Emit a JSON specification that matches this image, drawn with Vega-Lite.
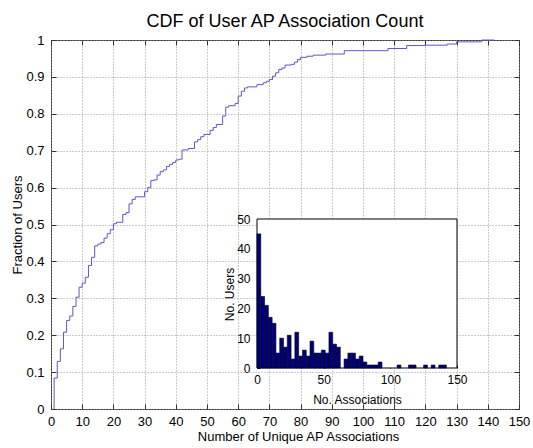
{
  "$schema": "https://vega.github.io/schema/vega-lite/v6.json",
  "width": 468,
  "height": 369,
  "autosize": {"type": "none"},
  "padding": {"left": 51, "top": 40, "right": 14, "bottom": 39},
  "background": "white",
  "config": {
    "font": "Liberation Sans",
    "view": {"stroke": "#333", "strokeWidth": 1}
  },
  "title": {
    "text": "CDF of User AP Association Count",
    "font": "Liberation Sans",
    "fontSize": 18,
    "fontWeight": "normal",
    "color": "#000",
    "baseline": "alphabetic",
    "offset": 13,
    "dy": 24
  },
  "datasets": {
    "cdf": [
      {"associations": 1, "fraction": 0},
      {"associations": 1, "fraction": 0.084},
      {"associations": 2, "fraction": 0.129},
      {"associations": 3, "fraction": 0.163},
      {"associations": 4, "fraction": 0.208},
      {"associations": 5, "fraction": 0.24},
      {"associations": 6, "fraction": 0.252},
      {"associations": 7, "fraction": 0.278},
      {"associations": 8, "fraction": 0.303},
      {"associations": 9, "fraction": 0.33},
      {"associations": 10, "fraction": 0.341},
      {"associations": 11, "fraction": 0.357},
      {"associations": 12, "fraction": 0.389},
      {"associations": 13, "fraction": 0.411},
      {"associations": 14, "fraction": 0.442},
      {"associations": 15, "fraction": 0.447},
      {"associations": 16, "fraction": 0.451},
      {"associations": 17, "fraction": 0.463},
      {"associations": 18, "fraction": 0.475},
      {"associations": 19, "fraction": 0.486},
      {"associations": 20, "fraction": 0.502},
      {"associations": 21, "fraction": 0.506},
      {"associations": 23, "fraction": 0.527},
      {"associations": 24, "fraction": 0.532},
      {"associations": 25, "fraction": 0.556},
      {"associations": 26, "fraction": 0.568},
      {"associations": 27, "fraction": 0.575},
      {"associations": 30, "fraction": 0.589},
      {"associations": 31, "fraction": 0.6},
      {"associations": 32, "fraction": 0.619},
      {"associations": 33, "fraction": 0.621},
      {"associations": 34, "fraction": 0.634},
      {"associations": 35, "fraction": 0.643},
      {"associations": 36, "fraction": 0.648},
      {"associations": 37, "fraction": 0.657},
      {"associations": 38, "fraction": 0.663},
      {"associations": 39, "fraction": 0.668},
      {"associations": 40, "fraction": 0.675},
      {"associations": 41, "fraction": 0.677},
      {"associations": 42, "fraction": 0.702},
      {"associations": 44, "fraction": 0.706},
      {"associations": 46, "fraction": 0.724},
      {"associations": 47, "fraction": 0.73},
      {"associations": 48, "fraction": 0.738},
      {"associations": 49, "fraction": 0.744},
      {"associations": 51, "fraction": 0.755},
      {"associations": 52, "fraction": 0.763},
      {"associations": 53, "fraction": 0.771},
      {"associations": 55, "fraction": 0.794},
      {"associations": 56, "fraction": 0.818},
      {"associations": 57, "fraction": 0.822},
      {"associations": 59, "fraction": 0.828},
      {"associations": 60, "fraction": 0.848},
      {"associations": 61, "fraction": 0.861},
      {"associations": 62, "fraction": 0.87},
      {"associations": 63, "fraction": 0.873},
      {"associations": 66, "fraction": 0.879},
      {"associations": 68, "fraction": 0.884},
      {"associations": 69, "fraction": 0.888},
      {"associations": 70, "fraction": 0.893},
      {"associations": 71, "fraction": 0.902},
      {"associations": 72, "fraction": 0.911},
      {"associations": 73, "fraction": 0.92},
      {"associations": 74, "fraction": 0.924},
      {"associations": 75, "fraction": 0.932},
      {"associations": 77, "fraction": 0.934},
      {"associations": 78, "fraction": 0.94},
      {"associations": 79, "fraction": 0.947},
      {"associations": 80, "fraction": 0.953},
      {"associations": 82, "fraction": 0.956},
      {"associations": 84, "fraction": 0.959},
      {"associations": 88, "fraction": 0.962},
      {"associations": 94, "fraction": 0.971},
      {"associations": 108, "fraction": 0.977},
      {"associations": 114, "fraction": 0.985},
      {"associations": 120, "fraction": 0.986},
      {"associations": 127, "fraction": 0.989},
      {"associations": 130, "fraction": 0.995},
      {"associations": 138, "fraction": 1.0},
      {"associations": 142, "fraction": 1.0}
    ],
    "hist": [
      {"bin_start": 0, "bin_end": 2.84, "users": 45},
      {"bin_start": 2.84, "bin_end": 5.68, "users": 24},
      {"bin_start": 5.68, "bin_end": 8.52, "users": 21},
      {"bin_start": 8.52, "bin_end": 11.36, "users": 17},
      {"bin_start": 11.36, "bin_end": 14.2, "users": 15},
      {"bin_start": 14.2, "bin_end": 17.04, "users": 5},
      {"bin_start": 17.04, "bin_end": 19.88, "users": 10},
      {"bin_start": 19.88, "bin_end": 22.72, "users": 7},
      {"bin_start": 22.72, "bin_end": 25.56, "users": 11},
      {"bin_start": 25.56, "bin_end": 28.4, "users": 3},
      {"bin_start": 28.4, "bin_end": 31.24, "users": 12},
      {"bin_start": 31.24, "bin_end": 34.08, "users": 4},
      {"bin_start": 34.08, "bin_end": 36.92, "users": 6},
      {"bin_start": 36.92, "bin_end": 39.76, "users": 4},
      {"bin_start": 39.76, "bin_end": 42.6, "users": 9},
      {"bin_start": 42.6, "bin_end": 45.44, "users": 5},
      {"bin_start": 45.44, "bin_end": 48.28, "users": 5},
      {"bin_start": 48.28, "bin_end": 51.12, "users": 6},
      {"bin_start": 51.12, "bin_end": 53.96, "users": 5},
      {"bin_start": 53.96, "bin_end": 56.8, "users": 12},
      {"bin_start": 56.8, "bin_end": 59.64, "users": 8},
      {"bin_start": 59.64, "bin_end": 62.48, "users": 7},
      {"bin_start": 65.32, "bin_end": 68.16, "users": 3},
      {"bin_start": 68.16, "bin_end": 71, "users": 5},
      {"bin_start": 71, "bin_end": 73.84, "users": 5},
      {"bin_start": 73.84, "bin_end": 76.68, "users": 3},
      {"bin_start": 76.68, "bin_end": 79.52, "users": 4},
      {"bin_start": 79.52, "bin_end": 82.36, "users": 2},
      {"bin_start": 82.36, "bin_end": 85.2, "users": 1},
      {"bin_start": 85.2, "bin_end": 88.04, "users": 1},
      {"bin_start": 88.04, "bin_end": 90.88, "users": 1},
      {"bin_start": 90.88, "bin_end": 93.72, "users": 2},
      {"bin_start": 105.08, "bin_end": 107.92, "users": 1},
      {"bin_start": 113.6, "bin_end": 116.44, "users": 1},
      {"bin_start": 116.44, "bin_end": 119.28, "users": 1},
      {"bin_start": 124.96, "bin_end": 127.8, "users": 1},
      {"bin_start": 130.64, "bin_end": 133.48, "users": 1},
      {"bin_start": 136.32, "bin_end": 139.16, "users": 1},
      {"bin_start": 139.16, "bin_end": 142, "users": 1}
    ]
  },
  "layer": [
    {
      "data": {"name": "cdf"},
      "mark": {"type": "line", "interpolate": "step-after", "color": "#5a5ac8", "strokeWidth": 1},
      "encoding": {
        "x": {
          "field": "associations",
          "type": "quantitative",
          "scale": {"domain": [0, 150], "nice": false, "zero": false},
          "axis": {
            "orient": "bottom",
            "values": [0, 10, 20, 30, 40, 50, 60, 70, 80, 90, 100, 110, 120, 130, 140, 150],
            "format": "d",
            "labelOverlap": false,
            "labelBound": false,
            "labelFlush": false,
            "domain": false,
            "grid": true,
            "gridColor": "#999",
            "gridDash": [1, 2],
            "gridWidth": 1,
            "ticks": true,
            "tickSize": -5,
            "tickColor": "#333",
            "labelFontSize": 13,
            "labelColor": "#000",
            "labelPadding": 11,
            "labelFont": "Liberation Sans",
            "title": "Number of Unique AP Associations",
            "titleFont": "Liberation Sans",
            "titleFontSize": 13,
            "titleFontWeight": "normal",
            "titleColor": "#000",
            "titleBaseline": "alphabetic",
            "titleX": 247,
            "titleY": 31.5
          }
        },
        "y": {
          "field": "fraction",
          "type": "quantitative",
          "scale": {"domain": [0, 1], "nice": false},
          "axis": {
            "orient": "left",
            "values": [0, 0.1, 0.2, 0.3, 0.4, 0.5, 0.6, 0.7, 0.8, 0.9, 1],
            "format": "~g",
            "labelOverlap": false,
            "labelFlush": false,
            "domain": false,
            "grid": true,
            "gridColor": "#999",
            "gridDash": [1, 2],
            "gridWidth": 1,
            "ticks": true,
            "tickSize": -5,
            "tickColor": "#333",
            "labelFontSize": 13,
            "labelColor": "#000",
            "labelPadding": 12,
            "labelFont": "Liberation Sans",
            "title": "Fraction of Users",
            "titleFont": "Liberation Sans",
            "titleFontSize": 13,
            "titleFontWeight": "normal",
            "titleColor": "#000",
            "titleBaseline": "alphabetic",
            "titleAngle": -90,
            "titleX": -30,
            "titleY": 184.5
          }
        }
      }
    },
    {
      "data": {"name": "cdf"},
      "mark": {"type": "line", "interpolate": "step-after", "strokeOpacity": 0},
      "encoding": {
        "x": {
          "field": "associations",
          "type": "quantitative",
          "scale": {"domain": [0, 150], "nice": false, "zero": false},
          "axis": {
            "orient": "top",
            "values": [0, 10, 20, 30, 40, 50, 60, 70, 80, 90, 100, 110, 120, 130, 140, 150],
            "labels": false,
            "domain": false,
            "grid": false,
            "ticks": true,
            "tickSize": -5,
            "tickColor": "#333",
            "title": null
          }
        },
        "y": {
          "field": "fraction",
          "type": "quantitative",
          "scale": {"domain": [0, 1], "nice": false},
          "axis": {
            "orient": "right",
            "values": [0, 0.1, 0.2, 0.3, 0.4, 0.5, 0.6, 0.7, 0.8, 0.9, 1],
            "labels": false,
            "domain": false,
            "grid": false,
            "ticks": true,
            "tickSize": -5,
            "tickColor": "#333",
            "title": null
          }
        }
      }
    },
    {
      "layer": [
        {
          "data": {"values": [{}]},
          "mark": {"type": "rect", "fill": "white", "stroke": "#000", "strokeWidth": 1},
          "encoding": {
            "x": {"datum": 0, "type": "quantitative", "scale": {"domain": [0, 150], "range": [206, 406], "nice": false, "zero": false}},
            "x2": {"datum": 150},
            "y": {"datum": 0, "type": "quantitative", "scale": {"domain": [0, 50], "range": [328, 179], "nice": false}},
            "y2": {"datum": 50}
          }
        },
        {
          "data": {"name": "hist"},
          "mark": {"type": "rect", "fill": "#00007f", "stroke": "#000", "strokeWidth": 0.6},
          "encoding": {
            "x": {
              "field": "bin_start",
              "type": "quantitative",
              "scale": {"domain": [0, 150], "range": [206, 406], "nice": false, "zero": false},
              "axis": {
                "orient": "bottom",
                "offset": -41,
                "values": [0, 50, 100, 150],
                "format": "d",
                "labelOverlap": false,
                "labelFlush": false,
                "domain": false,
                "grid": false,
                "ticks": true,
                "tickSize": -3,
                "tickColor": "#000",
                "labelFontSize": 12,
                "labelColor": "#000",
                "labelPadding": 9,
                "labelFont": "Liberation Sans",
                "title": "No. Associations",
                "titleFont": "Liberation Sans",
                "titleFontSize": 12,
                "titleFontWeight": "normal",
                "titleColor": "#000",
                "titleBaseline": "alphabetic",
                "titleX": 306,
                "titleY": 35
              }
            },
            "x2": {"field": "bin_end"},
            "y": {
              "field": "users",
              "type": "quantitative",
              "scale": {"domain": [0, 50], "range": [328, 179], "nice": false},
              "axis": {
                "orient": "left",
                "offset": -206,
                "values": [0, 10, 20, 30, 40, 50],
                "format": "d",
                "labelOverlap": false,
                "labelFlush": false,
                "domain": false,
                "grid": false,
                "ticks": true,
                "tickSize": -3,
                "tickColor": "#000",
                "labelFontSize": 12,
                "labelColor": "#000",
                "labelPadding": 10,
                "labelFont": "Liberation Sans",
                "title": "No. Users",
                "titleFont": "Liberation Sans",
                "titleFontSize": 12,
                "titleFontWeight": "normal",
                "titleColor": "#000",
                "titleBaseline": "alphabetic",
                "titleAngle": -90,
                "titleX": -24,
                "titleY": 254
              }
            },
            "y2": {"datum": 0}
          }
        }
      ]
    }
  ],
  "resolve": {"scale": {"x": "independent", "y": "independent"}}
}
